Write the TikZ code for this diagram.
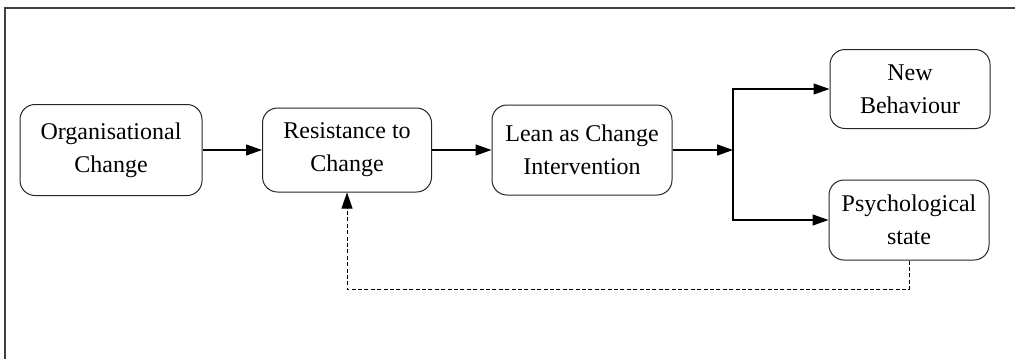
\documentclass[tikz,border=0pt]{standalone}
\usepackage{fontspec}
\setmainfont{Liberation Serif}
\usetikzlibrary{arrows.meta}

\begin{document}
\begin{tikzpicture}[x=0.5pt, y=-0.5pt,
  stage/.style={draw=black!85, line width=0.5pt, rounded corners=7.5pt,
    align=center, inner sep=0pt, font=\fontsize{12}{16.5}\selectfont},
  paths/.style={-{Triangle[length=8pt,width=5.5pt]}, line width=0.6pt},
  feedback/.style={paths, line width=0.5pt, dash pattern=on 2pt off 1.2pt}]

 \useasboundingbox (0,0) rectangle (1015,359);
 \draw [line width=0.8pt, black!75] (5,359) -- (5,8) -- (1015,8);


 \node[stage, minimum width=91pt, minimum height=45.5pt] (org_change) at (111,150)
     {Organisational\\Change};

 \node[stage, minimum width=84.5pt, minimum height=42pt] (resistance) at (347,150)
     {Resistance to\\Change};

 \node[stage, minimum width=90pt, minimum height=45pt] (lean) at (582,150)
     {Lean as Change\\Intervention};

 \node[stage, minimum width=80pt, minimum height=39.5pt] (new_behaviour) at (910,89)
     {New\\Behaviour};

 \node[stage, minimum width=80pt, minimum height=40pt] (psych_state) at (909,220)
     {Psychological\\state};

 \coordinate (split) at (733,150);


 \draw [paths] (org_change) -- (resistance);
 \draw [paths] (resistance) -- (lean);
 \draw [paths] (lean) -- (split);
 \draw [paths] (split) |- (new_behaviour.west);
 \draw [paths] (split) |- (psych_state.west);
 \draw [feedback] (psych_state.south) -- ++(0,29) -| (resistance.south);


\end{tikzpicture}
\end{document}
